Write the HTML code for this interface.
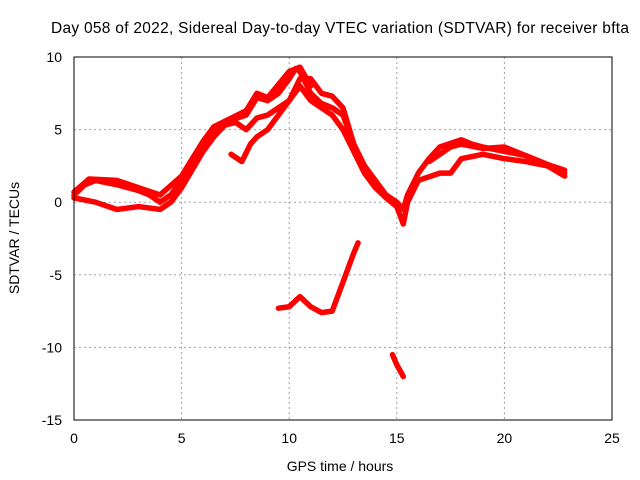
<!DOCTYPE html>
<html><head><meta charset="utf-8"><style>
body{margin:0;background:#fff;}
svg{display:block;font-family:"Liberation Sans",sans-serif;font-size:14px;}
</style></head><body>
<svg id="chart" width="640" height="480">
<text x="340" y="33" text-anchor="middle" style="font-size:15.5px" textLength="578">Day 058 of 2022, Sidereal Day-to-day VTEC variation (SDTVAR) for receiver bfta</text>
<text x="340" y="471" text-anchor="middle">GPS time / hours</text>
<text transform="translate(19,238) rotate(-90)" text-anchor="middle">SDTVAR / TECUs</text>
<g id="grid"></g><g id="ticks"></g><g id="series"></g>
<rect x="74" y="57" width="538" height="363" fill="none" stroke="#000" stroke-width="1"/>
</svg>
<script>
const xTicks=[0,5,10,15,20,25];
const yTicks=[10,5,0,-5,-10,-15];
const trackAx=[0,0.5,1,2,3,3.5,4,4.5,5,5.5,6,6.5,7,8,8.5,9,9.5,10,10.3,10.5,11,11.5,12,12.5,13,13.5,14,14.5,15,15.3,15.5,16,16.5,17,18,18.5,19,20,21,22,22.8];
const trackAy=[0.5,1.2,1.5,1.2,0.8,0.5,0,0.5,1.5,2.5,4,5,5.5,6,7.2,7,7.5,8.5,9.2,9,7.5,6.8,6.5,6,4,2.5,1.5,0.5,0,-0.5,0.5,2,3,3.8,4.3,4,3.8,3.5,3.2,2.5,2];
const trackBx=[0,1,2,3,4,4.5,5,6,6.5,7,7.5,8,8.5,9,9.5,10,10.5,11,12,12.5,13,13.5,14,14.5,15,15.3,15.5,16,17,17.5,18,19,20,21,22,22.8];
const trackBy=[0.3,0,-0.5,-0.3,-0.5,0,1,3.5,4.5,5.3,5.5,5,5.8,6,6.5,7,8,7,6,5,3.5,2,1,0.3,-0.3,-1.5,0,1.5,2,2,3,3.3,3,2.8,2.5,1.8];
const trackCx=[7.3,7.8,8.2,8.5,9,9.5,10,10.5,11,11.5,12,12.5,13];
const trackCy=[3.3,2.8,4,4.5,5,6,7,8.5,8.5,7.5,7.3,6.5,4];
const trackDx=[0,0.7,2,3,4,5,6,6.5,8,8.5,9,10,10.5,11];
const trackDy=[0.7,1.6,1.5,1,0.5,1.8,4.2,5.2,6.3,7.5,7.2,9,9.3,8];
const trackGx=[16.5,17.5,18,19,20,21,22,22.8];
const trackGy=[2.8,3.8,4,3.7,3.8,3.2,2.6,2.2];
const trackEx=[9.5,10,10.5,11,11.5,12,12.5,13,13.2];
const trackEy=[-7.3,-7.2,-6.5,-7.2,-7.6,-7.5,-5.5,-3.5,-2.8];
const trackFx=[14.8,15,15.3];
const trackFy=[-10.5,-11.2,-12];
const NS="http://www.w3.org/2000/svg";
const X=v=>74+(v-0)*538/25;
const Y=v=>420-(v+15)*363/25;
const grid=document.getElementById('grid'),ticks=document.getElementById('ticks'),ser=document.getElementById('series');
function mk(tag,attrs,parent){const e=document.createElementNS(NS,tag);for(const k in attrs)e.setAttribute(k,attrs[k]);parent.appendChild(e);return e;}
xTicks.forEach(t=>{
 if(t>0&&t<25){const g=mk('line',{x1:X(t),x2:X(t),y1:57,y2:420,stroke:'#a0a0a0','stroke-dasharray':'2,3'},grid);
 
 }
 const l=mk('text',{x:X(t),y:443,'text-anchor':'middle'},ticks);l.textContent=t;
 
 
});
yTicks.forEach(t=>{
 if(t>-15&&t<10){const g=mk('line',{x1:74,x2:612,y1:Y(t),y2:Y(t),stroke:'#a0a0a0','stroke-dasharray':'2,3'},grid);
 
 }
 const l=mk('text',{x:62,y:Y(t)+5,'text-anchor':'end'},ticks);l.textContent=t;
 
 
});
[[trackAx,trackAy],[trackBx,trackBy],[trackCx,trackCy],[trackDx,trackDy],[trackGx,trackGy],[trackEx,trackEy],[trackFx,trackFy]].forEach((tr,i)=>{
 const pts=tr[0].map((x,j)=>X(x)+','+Y(tr[1][j])).join(' ');
 const p=mk('polyline',{points:pts,fill:'none',stroke:'#ff0000','stroke-width':5.5,'stroke-linejoin':'round','stroke-linecap':'round'},ser);
 
 
});
</script>
</body></html>
